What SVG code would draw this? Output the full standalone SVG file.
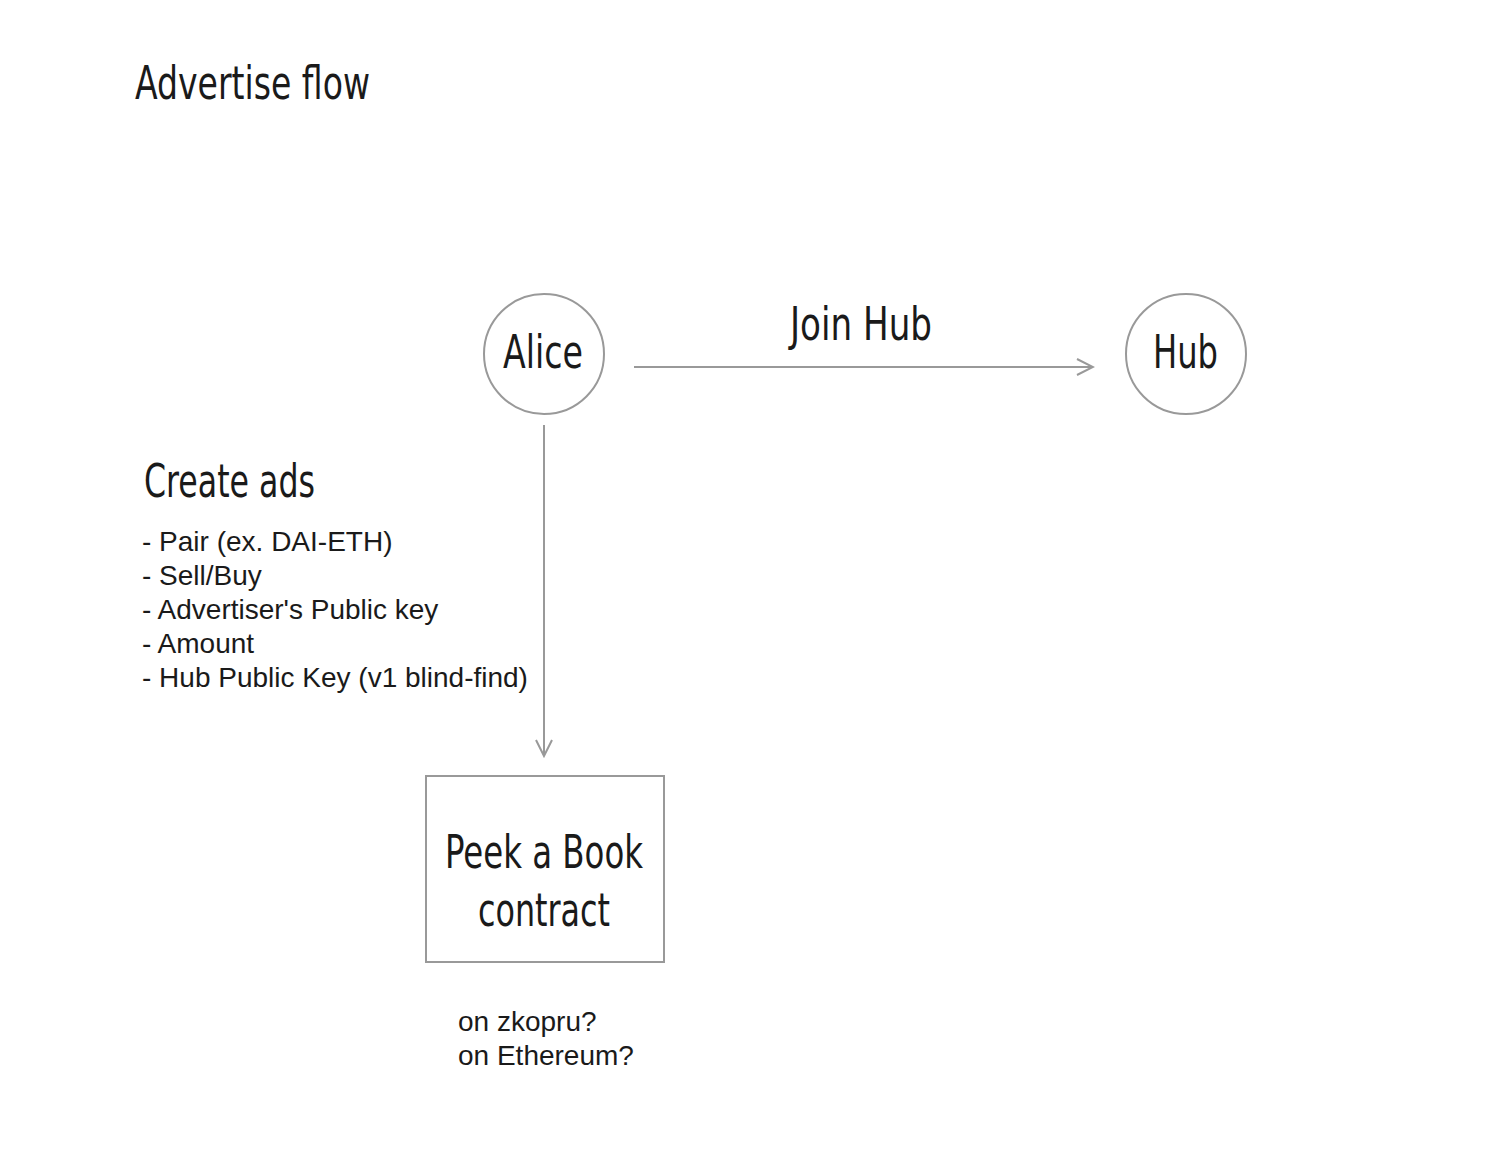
<svg xmlns="http://www.w3.org/2000/svg" width="1510" height="1172" viewBox="0 0 1510 1172">
<style>
.n{font-family:"Liberation Sans Narrow","DejaVu Sans Condensed","Liberation Sans",sans-serif;font-stretch:condensed;fill:#1a1a1a;font-size:47px;}
.b{font-family:"Liberation Sans",Arial,sans-serif;font-size:28px;fill:#1a1a1a;}
.shape{fill:#fff;stroke:#999;stroke-width:2;}
.conn{stroke:#999;stroke-width:2;fill:none;}
</style>
<defs>
<marker id="arr" viewBox="0 0 20 20" refX="18" refY="10" markerWidth="20" markerHeight="20" markerUnits="userSpaceOnUse" orient="auto">
<path d="M2,2 L18,10 L2,18" fill="none" stroke="#999" stroke-width="2"/>
</marker>
</defs>
<rect width="1510" height="1172" fill="#fff"/>
<text class="n" x="135" y="99" textLength="235" lengthAdjust="spacingAndGlyphs">Advertise flow</text>
<g id="connectors">
<line class="conn" x1="634" y1="367" x2="1093" y2="367" marker-end="url(#arr)"/>
<line class="conn" x1="544" y1="425" x2="544" y2="756" marker-end="url(#arr)"/>
<text class="n" x="790" y="340" textLength="142" lengthAdjust="spacingAndGlyphs">Join Hub</text>
<text class="n" x="144" y="497" textLength="171" lengthAdjust="spacingAndGlyphs">Create ads</text>
<text class="b" x="142" y="551">- Pair (ex. DAI-ETH)</text>
<text class="b" x="142" y="585">- Sell/Buy</text>
<text class="b" x="142" y="619">- Advertiser's Public key</text>
<text class="b" x="142" y="653">- Amount</text>
<text class="b" x="142" y="687">- Hub Public Key (v1 blind-find)</text>
</g>
<g id="alice">
<circle class="shape" cx="544" cy="354" r="60"/>
<text class="n" x="503" y="368" textLength="80" lengthAdjust="spacingAndGlyphs">Alice</text>
</g>
<g id="hub">
<circle class="shape" cx="1186" cy="354" r="60"/>
<text class="n" x="1153" y="368" textLength="65" lengthAdjust="spacingAndGlyphs">Hub</text>
</g>
<g id="contract">
<rect class="shape" x="426" y="776" width="238" height="186"/>
<text class="n" x="445" y="868" textLength="198" lengthAdjust="spacingAndGlyphs">Peek a Book</text>
<text class="n" x="478" y="926" textLength="132" lengthAdjust="spacingAndGlyphs">contract</text>
</g>
<g id="note">
<text class="b" x="458" y="1031">on zkopru?</text>
<text class="b" x="458" y="1065">on Ethereum?</text>
</g>
</svg>
